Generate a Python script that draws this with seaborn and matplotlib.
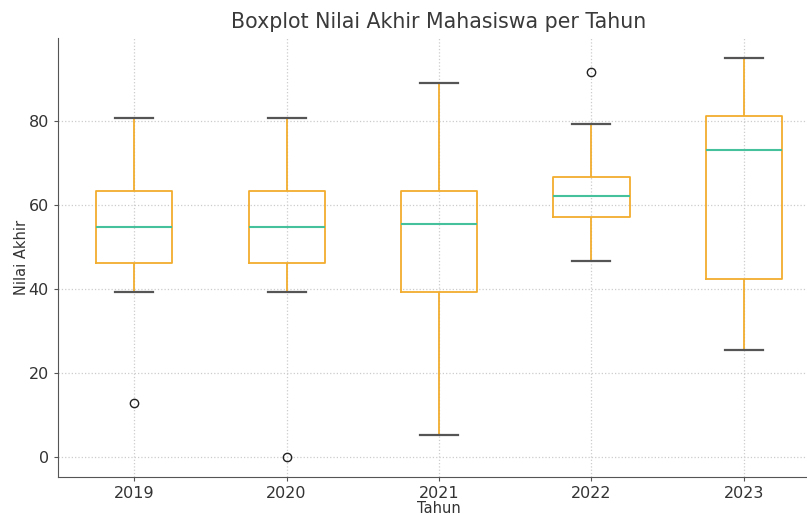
import pandas as pd
import seaborn as sns
import matplotlib.pyplot as plt

# nilai per tahun (dipilih supaya kuartil & whisker sama dengan gambar)
tahun = ["2019", "2020", "2021", "2022", "2023"]
nilai_2019 = [12.9, 39.2, 46.1, 50.0, 54.7, 58.0, 63.3, 70.0, 80.7]
nilai_2020 = [0.0, 39.2, 46.1, 50.0, 54.7, 58.0, 63.3, 70.0, 80.7]
nilai_2021 = [5.3, 20.0, 39.2, 47.0, 55.4, 60.0, 63.3, 75.0, 89.1]
nilai_2022 = [46.6, 52.0, 57.1, 60.0, 62.1, 64.0, 66.6, 79.3, 91.7]
nilai_2023 = [25.6, 35.0, 42.5, 60.0, 73.1, 78.0, 81.2, 90.0, 95.0]

semua = [nilai_2019, nilai_2020, nilai_2021, nilai_2022, nilai_2023]
rows = []
for t, vals in zip(tahun, semua):
    for v in vals:
        rows.append({"Tahun": t, "Nilai Akhir": v})
df = pd.DataFrame(rows)

orange = "#f2ad2e"
green = "#45c29c"
dark = "#555555"

fig = plt.figure(figsize=(8.07, 5.15), dpi=100)
ax = fig.add_axes([58 / 807, 1 - 477 / 515, (820 - 58) / 807, (477 - 38) / 515])

sns.boxplot(data=df, x="Tahun", y="Nilai Akhir", order=tahun, width=0.5, fill=False, ax=ax,
            boxprops=dict(color=orange, linewidth=1.3),
            whiskerprops=dict(color=orange, linewidth=1.3),
            capprops=dict(color=dark, linewidth=1.6),
            medianprops=dict(color=green, linewidth=1.5),
            flierprops=dict(marker="o", markerfacecolor="none", markeredgecolor="#222222",
                            markersize=6, markeredgewidth=1.0))

ax.set_xlim(-0.5, 4.5)
ax.set_ylim(-4.75, 99.75)
ax.set_yticks([0, 20, 40, 60, 80])
ax.grid(True, linestyle=":", color="#cccccc", linewidth=0.9)
ax.set_axisbelow(True)
for s in ["top", "right"]:
    ax.spines[s].set_visible(False)
for s in ["left", "bottom"]:
    ax.spines[s].set_color(dark)
ax.tick_params(colors=dark, labelsize=11.5, labelcolor="#333333", length=3)

ax.set_title("Boxplot Nilai Akhir Mahasiswa per Tahun", fontsize=14.8, color="#3a3a3a", pad=7)
ax.set_xlabel("Tahun", fontsize=10.5, color="#333333", labelpad=0)
ax.set_ylabel("Nilai Akhir", fontsize=10.5, color="#333333", labelpad=0)

fig.savefig("out.png", dpi=100)
